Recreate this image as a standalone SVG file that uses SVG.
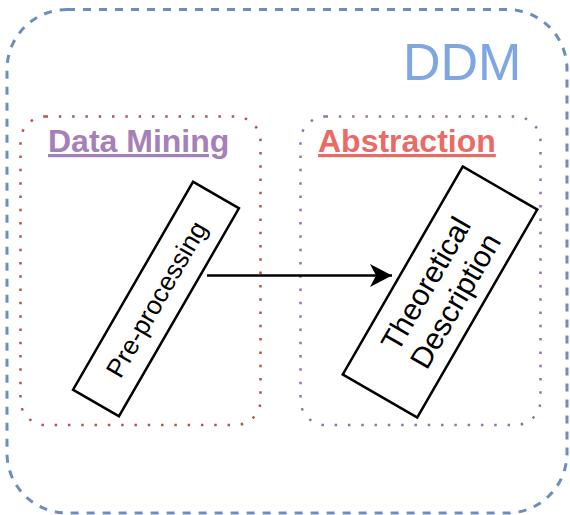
<svg xmlns="http://www.w3.org/2000/svg" width="570" height="515" viewBox="0 0 570 515">
  <defs>
    <style>
      .outer { fill: none; stroke: #6c8ebf; stroke-width: 3; stroke-dasharray: 8 8; }
      .group { fill: none; stroke-width: 2.5; stroke-dasharray: 2.5 10.8; }
      .box { fill: #ffffff; stroke: #000000; stroke-width: 2.5; }
      .lbl { font-family: "Liberation Sans", Arial, sans-serif; fill: #000000; text-anchor: middle; }
      .title { font-family: "Liberation Sans", Arial, sans-serif; font-size: 32px; font-weight: bold; text-decoration: underline; }
    </style>
    <marker id="arrow" markerUnits="userSpaceOnUse" markerWidth="24" markerHeight="24" viewBox="0 0 24 24" refX="22" refY="12" orient="auto">
      <path d="M0,0.5 L22,12 L0,23.5 L6,12 Z" fill="#000000"/>
    </marker>
  </defs>

  <g id="ddm">
    <rect class="outer" x="7" y="9.5" width="560" height="503.5" rx="60" ry="60"/>
    <text x="403" y="80" font-family="'Liberation Sans', Arial, sans-serif" font-size="52" fill="#7ea6e0">DDM</text>
  </g>

  <g id="data-mining">
    <rect class="group" x="20.5" y="116.5" width="240" height="308.5" rx="25" ry="25" stroke="#b85450"/>
    <text class="title" x="48" y="152" fill="#a680b8">Data Mining</text>
  </g>

  <g id="abstraction">
    <rect class="group" x="300.5" y="116.5" width="240" height="308.5" rx="25" ry="25" stroke="#9673a6"/>
    <text class="title" x="318" y="152" fill="#ea6b66">Abstraction</text>
  </g>

  <g id="pre-processing" transform="translate(156,299) rotate(-60)">
    <rect class="box" x="-120" y="-26.5" width="240" height="53"/>
    <text class="lbl" x="0" y="9.5" font-size="26">Pre-processing</text>
  </g>

  <g id="theoretical-description" transform="translate(440,292) rotate(-60)">
    <rect class="box" x="-120" y="-43" width="240" height="86"/>
    <text class="lbl" x="0" y="-6" font-size="30">Theoretical</text>
    <text class="lbl" x="0" y="28" font-size="30">Description</text>
  </g>

  <g id="connectors">
    <line x1="207" y1="275.5" x2="392" y2="275.5" stroke="#000000" stroke-width="2.5" marker-end="url(#arrow)"/>
  </g>
</svg>
